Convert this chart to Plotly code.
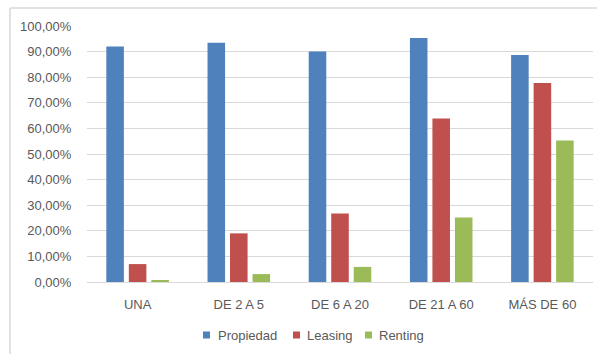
import plotly.graph_objects as go

categories = ["UNA", "DE 2 A 5", "DE 6 A 20", "DE 21 A 60", "MÁS DE 60"]
propiedad = [0.92, 0.935, 0.90, 0.953, 0.887]
leasing = [0.07, 0.19, 0.268, 0.639, 0.777]
renting = [0.006, 0.031, 0.059, 0.252, 0.553]
y_ticks = [i / 10 for i in range(11)]
y_tick_labels = ["%d,00%%" % (i * 10) for i in range(11)]

series = [
    ("Propiedad", propiedad, "#4F81BD"),
    ("Leasing", leasing, "#C0504D"),
    ("Renting", renting, "#9BBB59"),
]

fig = go.Figure()
for name, vals, color in series:
    fig.add_trace(go.Bar(
        x=categories, y=vals, name=name,
        marker=dict(color=color, line=dict(width=0)),
        showlegend=False,
    ))

L, R, T, B = 87, 4, 26, 72
W, H = 597, 354
pw = W - L - R
ph = H - T - B


def px_x(x):
    return (x - L) / pw


def px_y(y):
    return (H - B - y) / ph


# custom compact legend (Excel style)
legend_swatch_x = [203, 293, 365]
legend_text_x = [216, 305, 377]
legend_y = 335
shapes = []
annotations = []
for (name, _, color), sx, tx in zip(series, legend_swatch_x, legend_text_x):
    shapes.append(dict(type="rect", xref="paper", yref="paper",
                       x0=px_x(sx), x1=px_x(sx + 7),
                       y0=px_y(legend_y + 3.5), y1=px_y(legend_y - 3.5),
                       fillcolor=color, line=dict(width=0)))
    annotations.append(dict(text=name, xref="paper", yref="paper",
                            x=px_x(tx), y=px_y(legend_y), xanchor="left",
                            yanchor="middle", showarrow=False,
                            font=dict(size=13, color="#595959")))

# chart area border (top and left visible)
shapes.append(dict(type="line", xref="paper", yref="paper",
                   x0=px_x(10), x1=px_x(W + 5), y0=px_y(8), y1=px_y(8),
                   line=dict(color="#d9d9d9", width=1.5)))
shapes.append(dict(type="line", xref="paper", yref="paper",
                   x0=px_x(10), x1=px_x(10), y0=px_y(8), y1=px_y(H + 10),
                   line=dict(color="#d9d9d9", width=1.5)))

fig.update_layout(
    width=W, height=H,
    margin=dict(l=L, r=R, t=T, b=B),
    paper_bgcolor="white", plot_bgcolor="white",
    barmode="group", bargap=0.333, bargroupgap=0.22,
    font=dict(family="Liberation Sans, Arial, sans-serif", size=13, color="#595959"),
    showlegend=False,
    xaxis=dict(
        showgrid=False, showline=True, linecolor="#d9d9d9", linewidth=1,
        ticks="outside", ticklen=10, tickcolor="rgba(0,0,0,0)",
        tickfont=dict(size=13, color="#595959"),
    ),
    yaxis=dict(
        range=[0, 1.0], tickvals=y_ticks, ticktext=y_tick_labels,
        showgrid=True, gridcolor="#d9d9d9", gridwidth=1,
        zeroline=False, showline=False,
        ticks="outside", ticklen=12, tickcolor="rgba(0,0,0,0)",
        tickfont=dict(size=13, color="#595959"),
    ),
    shapes=shapes,
    annotations=annotations,
)

fig.write_html("out.html")
